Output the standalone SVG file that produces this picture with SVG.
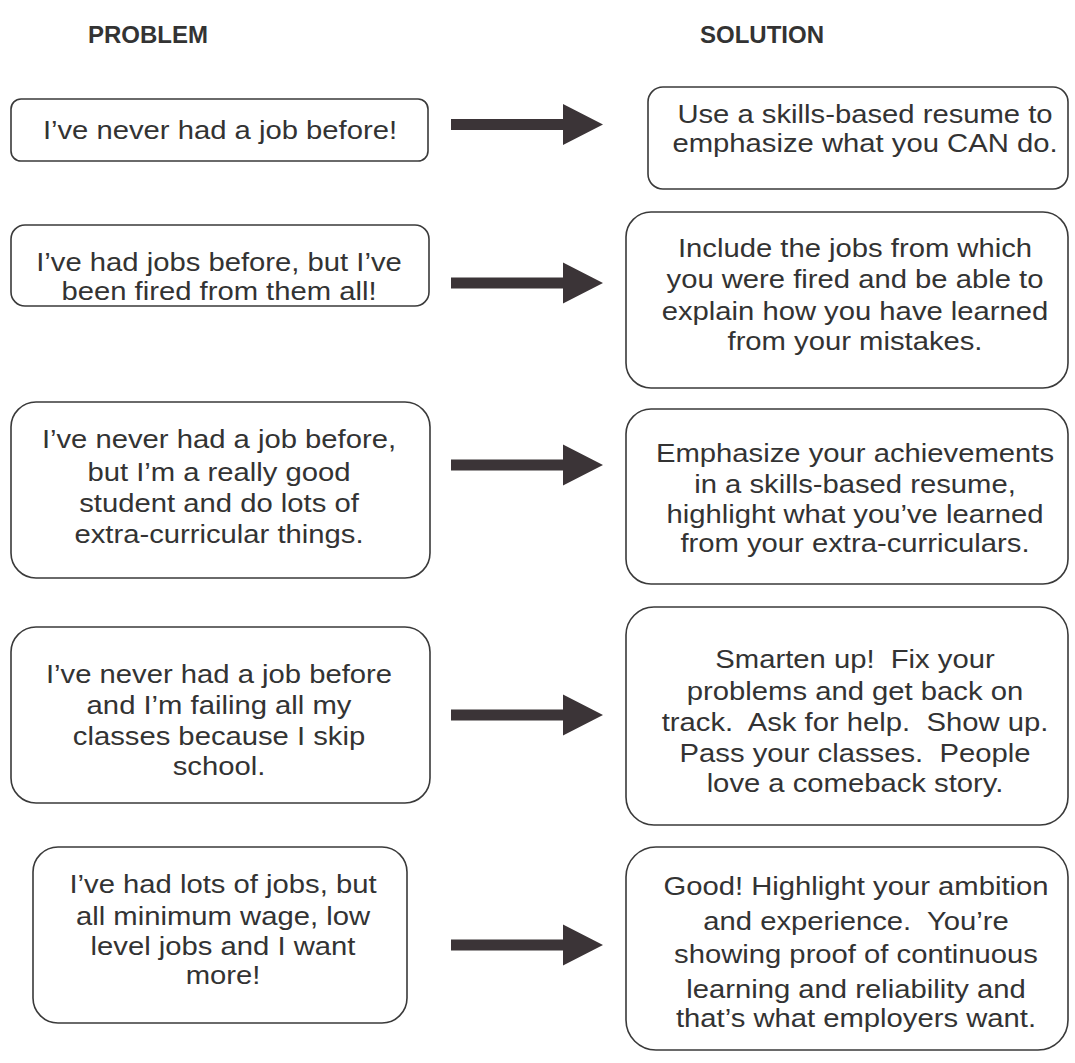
<svg xmlns="http://www.w3.org/2000/svg" width="1075" height="1063" viewBox="0 0 1075 1063">
<style>
.bg{fill:#ffffff}
.box{fill:#ffffff;stroke:#3a3a3a;stroke-width:1.6}
.t{font-family:"Liberation Sans",Arial,Helvetica,sans-serif;font-size:25px;fill:#333333;text-anchor:middle}
.h{font-family:"Liberation Sans",Arial,Helvetica,sans-serif;font-size:24px;font-weight:bold;fill:#333333;text-anchor:middle}
.arrow{fill:#3b3437}
</style>
<defs>
<path id="arr" d="M0,-5.5 H112 V-20.5 L152,0 L112,20.5 V5.5 H0 Z"/>
</defs>
<rect class="bg" x="0" y="0" width="1075" height="1063"/>
<g id="headings">
<text class="h" x="148" y="43">PROBLEM</text>
<text class="h" x="762" y="43">SOLUTION</text>
</g>
<g id="connectors">
<use href="#arr" class="arrow" x="451" y="124.5"/>
<use href="#arr" class="arrow" x="451" y="283"/>
<use href="#arr" class="arrow" x="451" y="465"/>
<use href="#arr" class="arrow" x="451" y="715"/>
<use href="#arr" class="arrow" x="451" y="945"/>
</g>
<g id="p1">
<rect class="box" x="11" y="99" width="417" height="62" rx="10"/>
<text class="t" transform="translate(220 0) scale(1.17 1)"><tspan x="0" y="139">I’ve never had a job before!</tspan></text>
</g>
<g id="p2">
<rect class="box" x="11" y="225" width="418" height="81" rx="14"/>
<text class="t" transform="translate(219 0) scale(1.17 1)"><tspan x="0" y="271">I’ve had jobs before, but I’ve</tspan><tspan x="0" y="300">been fired from them all!</tspan></text>
</g>
<g id="p3">
<rect class="box" x="11" y="402" width="419" height="176" rx="25"/>
<text class="t" transform="translate(219 0) scale(1.17 1)"><tspan x="0" y="448">I’ve never had a job before,</tspan><tspan x="0" y="481">but I’m a really good</tspan><tspan x="0" y="512">student and do lots of</tspan><tspan x="0" y="543">extra-curricular things.</tspan></text>
</g>
<g id="p4">
<rect class="box" x="11" y="627" width="419" height="176" rx="25"/>
<text class="t" transform="translate(219 0) scale(1.17 1)"><tspan x="0" y="683">I’ve never had a job before</tspan><tspan x="0" y="714">and I’m failing all my</tspan><tspan x="0" y="745">classes because I skip</tspan><tspan x="0" y="775">school.</tspan></text>
</g>
<g id="p5">
<rect class="box" x="33" y="847" width="374" height="176" rx="25"/>
<text class="t" transform="translate(223 0) scale(1.17 1)"><tspan x="0" y="893">I’ve had lots of jobs, but</tspan><tspan x="0" y="925">all minimum wage, low</tspan><tspan x="0" y="955">level jobs and I want</tspan><tspan x="0" y="984">more!</tspan></text>
</g>
<g id="s1">
<rect class="box" x="648" y="87" width="420" height="102" rx="15"/>
<text class="t" transform="translate(865 0) scale(1.17 1)"><tspan x="0" y="123">Use a skills-based resume to</tspan><tspan x="0" y="152">emphasize what you CAN do.</tspan></text>
</g>
<g id="s2">
<rect class="box" x="626" y="212" width="442" height="176" rx="25"/>
<text class="t" transform="translate(855 0) scale(1.17 1)"><tspan x="0" y="257">Include the jobs from which</tspan><tspan x="0" y="288">you were fired and be able to</tspan><tspan x="0" y="320">explain how you have learned</tspan><tspan x="0" y="350">from your mistakes.</tspan></text>
</g>
<g id="s3">
<rect class="box" x="626" y="409" width="442" height="175" rx="25"/>
<text class="t" transform="translate(855 0) scale(1.17 1)"><tspan x="0" y="462">Emphasize your achievements</tspan><tspan x="0" y="493">in a skills-based resume,</tspan><tspan x="0" y="523">highlight what you’ve learned</tspan><tspan x="0" y="552">from your extra-curriculars.</tspan></text>
</g>
<g id="s4">
<rect class="box" x="626" y="607" width="442" height="218" rx="28"/>
<text class="t" transform="translate(855 0) scale(1.17 1)"><tspan x="0" y="668">Smarten up!&#160; Fix your</tspan><tspan x="0" y="700">problems and get back on</tspan><tspan x="0" y="731">track.&#160; Ask for help.&#160; Show up.</tspan><tspan x="0" y="762">Pass your classes.&#160; People</tspan><tspan x="0" y="792">love a comeback story.</tspan></text>
</g>
<g id="s5">
<rect class="box" x="626" y="847" width="442" height="203" rx="30"/>
<text class="t" transform="translate(856 0) scale(1.17 1)"><tspan x="0" y="895">Good! Highlight your ambition</tspan><tspan x="0" y="930">and experience.&#160; You’re</tspan><tspan x="0" y="963">showing proof of continuous</tspan><tspan x="0" y="998">learning and reliability and</tspan><tspan x="0" y="1027">that’s what employers want.</tspan></text>
</g>
</svg>
